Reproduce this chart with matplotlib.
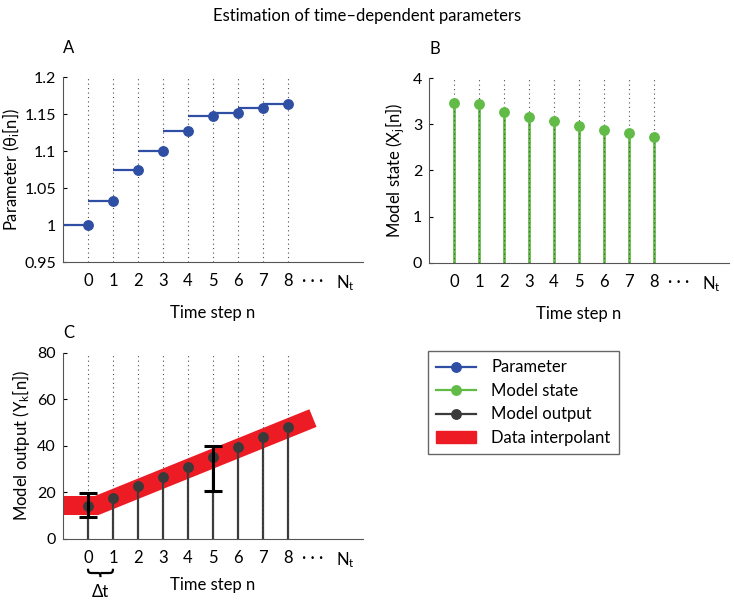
import numpy as np
import matplotlib.pyplot as plt
from matplotlib.legend_handler import HandlerLine2D
from matplotlib.lines import Line2D
from matplotlib.patches import Patch, PathPatch
from matplotlib.path import Path
from matplotlib.transforms import blended_transform_factory

plt.rcParams['font.family'] = ['Lato', 'DejaVu Sans']
plt.rcParams['mathtext.fontset'] = 'custom'
plt.rcParams['mathtext.rm'] = 'Lato'
plt.rcParams['mathtext.it'] = 'Lato'
FS = 12

# data
steps = np.arange(9)
theta = [1.0, 1.033, 1.075, 1.100, 1.127, 1.147, 1.152, 1.158, 1.164]
state = [3.45, 3.43, 3.27, 3.16, 3.06, 2.96, 2.88, 2.80, 2.72]
output = [14.4, 17.8, 22.7, 26.6, 30.9, 35.1, 39.5, 43.8, 48.3]
interp_x = [-1.0, 0.35, 9.0]
interp_y = [14.4, 14.4, 52.0]
data_x = [0, 5]
data_y = [14.65, 30.25]
data_err = [5.05, 9.55]
tick_pos = [0, 1, 2, 3, 4, 5, 6, 7, 8, 9, 10.3]
tick_labels = [str(i) for i in range(9)] + ['· · ·', r'$\mathrm{N_t}$']

blue = '#2f4fa4'
green = '#62bb47'
dark = '#3a3a3a'
red = '#ed1c24'


class EndMarker(HandlerLine2D):
    # legend line with the marker sitting at its right end
    def get_xdata(self, legend, xdescent, ydescent, width, height, fontsize):
        xdata, xm = super().get_xdata(legend, xdescent, ydescent, width, height, fontsize)
        return xdata, [xdata[-1] - 2]


def setup_axis(ax, ylim, yticks, yticklabels, ylabel, xpad=9, ypad=4):
    ax.set_xlim(-1, 11)
    ax.set_ylim(*ylim)
    ax.set_xticks(tick_pos)
    ax.set_xticklabels(tick_labels)
    ax.set_yticks(yticks)
    ax.set_yticklabels(yticklabels)
    ax.tick_params(axis='x', length=0, pad=8, labelsize=FS)
    ax.tick_params(axis='y', direction='in', length=3, pad=5, labelsize=11.5)
    for s in ['top', 'right']:
        ax.spines[s].set_visible(False)
    for s in ['left', 'bottom']:
        ax.spines[s].set_color('#555555')
    ax.vlines(steps, ylim[0], ylim[1], colors='0.3', linestyles=(0, (1, 3)),
              lw=0.8, zorder=3)
    ax.set_xlabel('Time step n', fontsize=FS, labelpad=xpad)
    ax.set_ylabel(ylabel, fontsize=FS, labelpad=ypad)


fig = plt.figure(figsize=(7.34, 6.0), dpi=100)
axA = fig.add_axes([0.0858, 0.5633, 0.4087, 0.3083])
axB = fig.add_axes([0.5845, 0.5617, 0.4087, 0.3083])
axC = fig.add_axes([0.0858, 0.1017, 0.4087, 0.31])

# A: parameter
setup_axis(axA, (0.95, 1.2), [0.95, 1, 1.05, 1.1, 1.15, 1.2],
           ['0.95', '1', '1.05', '1.1', '1.15', '1.2'],
           r'Parameter ($\mathrm{\theta_i}$[n])', ypad=2)
axA.hlines(theta, steps - 1, steps, colors=blue, lw=1.6, zorder=2)
axA.plot(steps, theta, 'o', color=blue, ms=6.8, zorder=4)

# B: model state
setup_axis(axB, (0, 4), [0, 1, 2, 3, 4], ['0', '1', '2', '3', '4'],
           r'Model state ($\mathrm{X_j}$[n])')
axB.vlines(steps, 0, state, colors=green, lw=2, zorder=2)
axB.plot(steps, state, 'o', color=green, ms=6.8, zorder=4)

# C: model output
setup_axis(axC, (0, 80), [0, 20, 40, 60, 80], ['0', '20', '40', '60', '80'],
           r'Model output ($\mathrm{Y_k}$[n])', xpad=5)
axC.plot(interp_x, interp_y, color=red, lw=13.7, solid_capstyle='butt',
         solid_joinstyle='miter', zorder=1)
axC.vlines(steps, 0, output, colors=dark, lw=1.6, zorder=2)
axC.plot(steps, output, 'o', color=dark, ms=6.8, zorder=4)
axC.errorbar(data_x, data_y, yerr=data_err, fmt='none', ecolor='black',
             elinewidth=2.2, capsize=6.5, capthick=2.2, zorder=5)

# curly brace marking one time step
tr = blended_transform_factory(axC.transData, axC.transAxes)
y0, yb, yt = -0.160, -0.183, -0.205
brace = Path([(0, y0), (0, yb), (0.05, yb), (0.2, yb),
              (0.4, yb), (0.45, yb), (0.5, yb), (0.5, yt),
              (0.5, yb), (0.55, yb), (0.6, yb),
              (0.8, yb), (0.95, yb), (1, yb), (1, y0)],
             [Path.MOVETO, Path.CURVE4, Path.CURVE4, Path.CURVE4,
              Path.LINETO, Path.CURVE4, Path.CURVE4, Path.CURVE4,
              Path.MOVETO, Path.CURVE4, Path.CURVE4,
              Path.LINETO, Path.CURVE4, Path.CURVE4, Path.CURVE4])
axC.add_patch(PathPatch(brace, transform=tr, fc='none', ec='black', lw=1.6,
                        clip_on=False))
axC.text(0.5, -0.285, 'Δt', fontsize=FS, ha='center', va='center',
         transform=tr, clip_on=False)

for ax, lab, y in [(axA, 'A', 1.157), (axB, 'B', 1.157), (axC, 'C', 1.11)]:
    ax.text(0, y, lab, transform=ax.transAxes, ha='left', va='center', fontsize=FS)

fig.suptitle('Estimation of time–dependent parameters', y=0.986, fontsize=FS)

handles = [
    Line2D([], [], color=blue, lw=1.6, marker='o', ms=6.8),
    Line2D([], [], color=green, lw=1.6, marker='o', ms=6.8),
    Line2D([], [], color=dark, lw=1.6, marker='o', ms=6.8),
    Patch(facecolor=red, edgecolor=red),
]
labels = ['Parameter', 'Model state', 'Model output', 'Data interpolant']
leg = fig.legend(handles, labels, loc='upper left',
                 bbox_to_anchor=(428 / 734, 1 - 351 / 600),
                 handler_map={Line2D: EndMarker(numpoints=1)},
                 fancybox=False, framealpha=1, edgecolor='#666666',
                 fontsize=FS, handlelength=2.4, handletextpad=0.9,
                 labelspacing=0.45, borderpad=0.5, borderaxespad=0)
leg.get_frame().set_linewidth(1.0)

fig.savefig('out.png', dpi=100)
